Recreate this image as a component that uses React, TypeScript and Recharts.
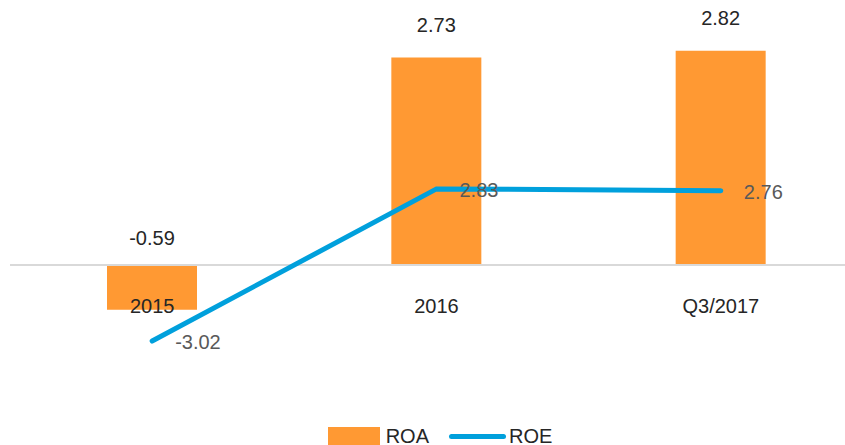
import React from "react";
import {
  ComposedChart,
  Bar,
  Line,
  XAxis,
  YAxis,
  ReferenceLine,
  Legend,
  LabelList,
} from "recharts";

const categories = ["2015", "2016", "Q3/2017"];
const roaValues = [-0.59, 2.73, 2.82];
const roeValues = [-3.02, 2.83, 2.76];

const FONT = "'Liberation Sans', Arial, sans-serif";
const ORANGE = "#ff9933";
const BLUE = "#00a0dc";

const data = categories.map((name, i) => ({
  name,
  roa: roaValues[i],
  roe: roeValues[i],
}));

const BarValueLabel = (props: any) => {
  const { x, y, width, height, value } = props;
  const top = Math.min(y, y + height);
  const ty = value >= 0 ? top - 33 : top - 27;
  return (
    <text
      x={x + width / 2}
      y={ty}
      textAnchor="middle"
      dominantBaseline="central"
      fill="#262626"
      fontSize={20}
      fontFamily={FONT}
    >
      {value.toFixed(2)}
    </text>
  );
};

const LineValueLabel = (props: any) => {
  const { x, y, value } = props;
  return (
    <text
      x={x + 23}
      y={y + 1}
      textAnchor="start"
      dominantBaseline="central"
      fill="#595959"
      fontSize={20}
      fontFamily={FONT}
    >
      {value.toFixed(2)}
    </text>
  );
};

const CategoryTick = (props: any) => {
  const { x, y, payload } = props;
  return (
    <text
      x={x}
      y={y - 73}
      textAnchor="middle"
      dominantBaseline="central"
      fill="#262626"
      fontSize={20}
      fontFamily={FONT}
    >
      {payload.value}
    </text>
  );
};

const LegendContent = () => (
  <div
    style={{
      height: 36,
      display: "flex",
      justifyContent: "center",
      alignItems: "flex-end",
      paddingLeft: 35,
      fontFamily: FONT,
      fontSize: 20,
      color: "#262626",
      boxSizing: "border-box",
    }}
  >
    <div style={{ display: "flex", alignItems: "center", height: 18 }}>
      <span
        style={{ width: 52, height: 18, background: ORANGE, marginRight: 6 }}
      />
      <span style={{ marginRight: 20 }}>ROA</span>
      <span
        style={{
          width: 57,
          height: 5,
          borderRadius: 3,
          background: BLUE,
          marginRight: 3,
        }}
      />
      <span>ROE</span>
    </div>
  </div>
);

const App: React.FC = () => {
  return (
    <div style={{ position: "absolute", left: 0, top: 0, background: "#fff" }}>
      <ComposedChart
        width={845}
        height={445}
        data={data}
        margin={{ top: 37, right: -18, left: 10, bottom: 0 }}
      >
        <XAxis
          dataKey="name"
          axisLine={false}
          tickLine={false}
          tickSize={0}
          tickMargin={0}
          height={30}
          tick={<CategoryTick />}
          interval={0}
        />
        <YAxis yAxisId="roa" hide domain={[-1.5, 3]} />
        <YAxis
          yAxisId="roe"
          orientation="right"
          hide
          domain={[-4.48, 8.67]}
        />
        <ReferenceLine
          yAxisId="roa"
          y={0}
          stroke="#d9d9d9"
          strokeWidth={2}
        />
        <Bar
          yAxisId="roa"
          dataKey="roa"
          name="ROA"
          fill={ORANGE}
          barSize={90}
          isAnimationActive={false}
        >
          <LabelList dataKey="roa" content={<BarValueLabel />} />
        </Bar>
        <Line
          yAxisId="roe"
          type="linear"
          dataKey="roe"
          name="ROE"
          stroke={BLUE}
          strokeWidth={5}
          strokeLinecap="round"
          dot={false}
          activeDot={false}
          isAnimationActive={false}
        >
          <LabelList dataKey="roe" content={<LineValueLabel />} />
        </Line>
        <Legend
          verticalAlign="bottom"
          content={<LegendContent />}
          wrapperStyle={{ left: 0, width: 845, height: 36 }}
        />
      </ComposedChart>
    </div>
  );
};

export default App;
